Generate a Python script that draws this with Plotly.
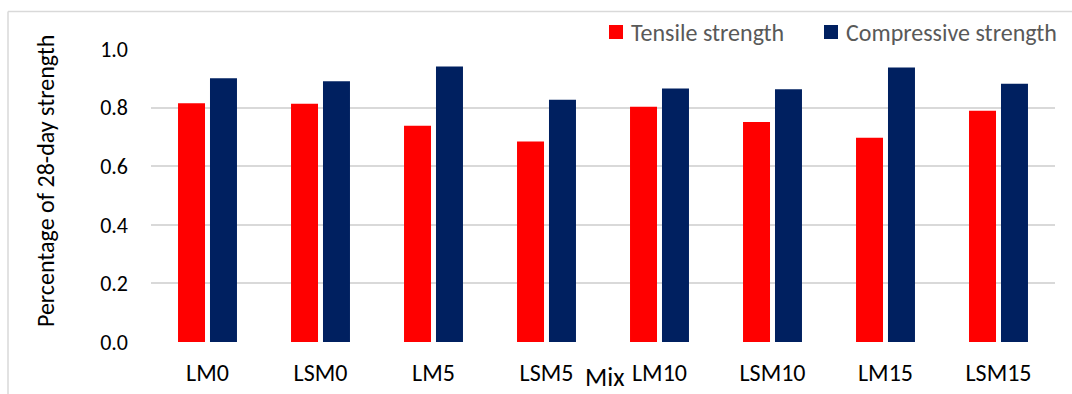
import plotly.graph_objects as go

# Mix designs and strength ratios (fraction of 28-day strength)
mixes = ["LM0", "LSM0", "LM5", "LSM5", "LM10", "LSM10", "LM15", "LSM15"]
tensile = [0.815, 0.813, 0.738, 0.684, 0.803, 0.751, 0.697, 0.789]
compressive = [0.900, 0.890, 0.940, 0.827, 0.865, 0.863, 0.937, 0.881]
y_ticks = [0.0, 0.2, 0.4, 0.6, 0.8, 1.0]
series_names = ["Tensile strength", "Compressive strength"]
series_colors = ["#FF0000", "#002060"]

W, H = 1072, 394
L, R, T, B = 151, 17, 49, 52
FONT = "Carlito, Calibri, Lato, sans-serif"

fig = go.Figure()
for name, vals, col in zip(series_names, [tensile, compressive], series_colors):
    fig.add_trace(go.Bar(
        x=mixes, y=vals, name=name,
        marker=dict(color=col, line=dict(width=0)),
        showlegend=False,
    ))

fig.update_layout(
    width=W, height=H,
    margin=dict(l=L, r=R, t=T, b=B, pad=0),
    paper_bgcolor="white", plot_bgcolor="white",
    barmode="group", bargap=0.434, bargroupgap=0.156,
    font=dict(family=FONT, color="#000000"),
    xaxis=dict(
        showgrid=False, showline=False, zeroline=False, automargin=False,
        tickfont=dict(size=24, color="#000000"),
        ticks="outside", ticklen=9, tickcolor="rgba(0,0,0,0)",
    ),
    yaxis=dict(
        range=[0, 1.0], tickvals=y_ticks, ticktext=[f"{v:.1f}" for v in y_ticks],
        showgrid=True, gridcolor="#D9D9D9", gridwidth=2,
        zeroline=False, showline=False, automargin=False,
        tickfont=dict(size=22, color="#000000"),
        ticks="", ticklabelstandoff=22,
    ),
)

pw, ph = W - L - R, H - T - B


def px_x(px):
    return (px - L) / pw


def px_y(py):
    return (H - B - py) / ph


# outer chart border (top and left edges)
fig.add_shape(type="line", xref="paper", yref="paper",
              x0=px_x(8), x1=px_x(W + 5), y0=px_y(11.5), y1=px_y(11.5),
              line=dict(color="#D9D9D9", width=1.5))
fig.add_shape(type="line", xref="paper", yref="paper",
              x0=px_x(8), x1=px_x(8), y0=px_y(11.5), y1=px_y(H + 5),
              line=dict(color="#D9D9D9", width=1.5))

# legend: colour swatches and labels
legend_items = [(609, series_names[0], series_colors[0]),
                (824, series_names[1], series_colors[1])]
for sx, name, col in legend_items:
    fig.add_shape(type="rect", xref="paper", yref="paper",
                  x0=px_x(sx), x1=px_x(sx + 14), y0=px_y(25), y1=px_y(39),
                  fillcolor=col, line=dict(width=0))
    fig.add_annotation(xref="paper", yref="paper", x=px_x(sx + 20), y=px_y(32),
                       xanchor="left", yanchor="middle", showarrow=False,
                       text=name, font=dict(size=24, color="#595959", family=FONT))

# axis titles
fig.add_annotation(xref="paper", yref="paper", x=px_x(45), y=px_y(181),
                   xanchor="center", yanchor="middle", showarrow=False, textangle=-90,
                   text="Percentage of 28-day strength",
                   font=dict(size=24, color="#000000", family=FONT))
fig.add_annotation(xref="paper", yref="paper", x=px_x(604.5), y=px_y(394),
                   xanchor="center", yanchor="bottom", showarrow=False,
                   borderpad=0,
                   text="Mix", font=dict(size=26, color="#000000", family=FONT))

fig.write_html("out.html")
